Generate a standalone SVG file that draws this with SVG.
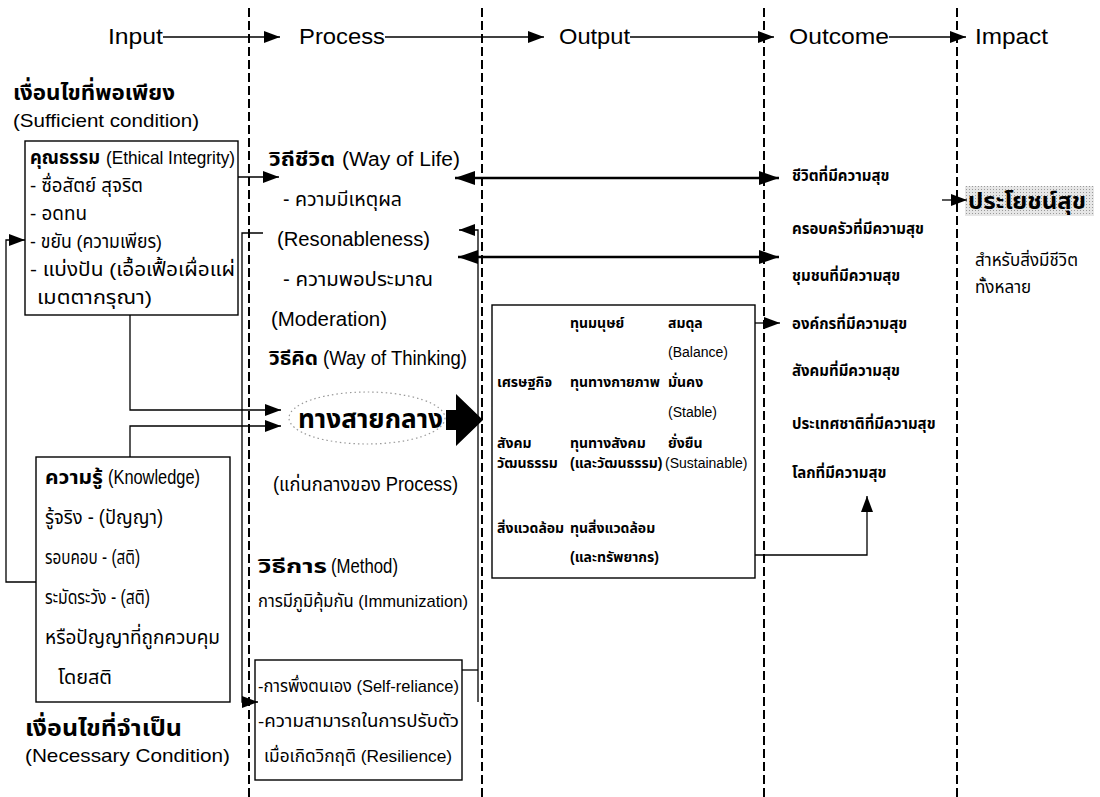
<svg xmlns="http://www.w3.org/2000/svg" width="1100" height="797" viewBox="0 0 1100 797">
<style>
text{font-family:"Liberation Sans","Noto Sans Thai","Noto Sans",sans-serif;fill:#000}
.hd{font-size:22px}
.b{font-weight:bold}
.m{font-size:20px}
.k{font-size:19px}
.s{font-size:17px}
.o{font-size:14px;font-weight:bold}
.oi{font-size:14px}
.oc{font-size:15px;font-weight:bold}
.dash{stroke:#000;stroke-width:2;stroke-dasharray:9 4;fill:none}
.ln{stroke:#000;stroke-width:1.3;fill:none}
.tk{stroke:#000;stroke-width:2.6;fill:none}
.box{fill:#fff;stroke:#000;stroke-width:1.4}
</style>
<defs>
<marker id="ah" markerUnits="userSpaceOnUse" markerWidth="16" markerHeight="12" refX="16" refY="6" orient="auto-start-reverse"><path d="M0,0 L16,6 L0,12 z" fill="#000"/></marker>
<marker id="ahb" markerUnits="userSpaceOnUse" markerWidth="20" markerHeight="14" refX="20" refY="7" orient="auto-start-reverse"><path d="M0,0 L20,7 L0,14 z" fill="#000"/></marker>
<pattern id="dots" width="3" height="3" patternUnits="userSpaceOnUse"><rect width="3" height="3" fill="#e6e6e6"/><rect width="1" height="1" fill="#999"/></pattern>
</defs>
<rect width="1100" height="797" fill="#fff"/>

<g id="dividers">
<line class="dash" x1="249" y1="8" x2="249" y2="797"/>
<line class="dash" x1="482" y1="8" x2="482" y2="797"/>
<line class="dash" x1="764" y1="8" x2="764" y2="797"/>
<line class="dash" x1="957" y1="8" x2="957" y2="797"/>
</g>

<g id="header">
<text class="hd" x="108" y="44" textLength="55" lengthAdjust="spacingAndGlyphs">Input</text>
<text class="hd" x="299" y="44" textLength="86" lengthAdjust="spacingAndGlyphs">Process</text>
<text class="hd" x="559" y="44" textLength="71" lengthAdjust="spacingAndGlyphs">Output</text>
<text class="hd" x="789" y="44" textLength="100" lengthAdjust="spacingAndGlyphs">Outcome</text>
<text class="hd" x="975" y="44" textLength="73" lengthAdjust="spacingAndGlyphs">Impact</text>
</g>

<g id="sufficient-title">
<text class="b" style="font-size:22px" x="13" y="100" textLength="162" lengthAdjust="spacingAndGlyphs">เงื่อนไขที่พอเพียง</text>
<text style="font-size:19px" x="13" y="127" textLength="186" lengthAdjust="spacingAndGlyphs">(Sufficient condition)</text>
</g>

<g id="ethics">
<rect class="box" x="25" y="141" width="213" height="174"/>
<text class="k b" x="30" y="164" textLength="70" lengthAdjust="spacingAndGlyphs">คุณธรรม</text>
<text class="k" x="106" y="164" textLength="129" lengthAdjust="spacingAndGlyphs">(Ethical Integrity)</text>
<text class="k" x="30" y="192" textLength="113" lengthAdjust="spacingAndGlyphs">- ซื่อสัตย์ สุจริต</text>
<text class="k" x="30" y="220" textLength="57" lengthAdjust="spacingAndGlyphs">- อดทน</text>
<text class="k" x="30" y="248" textLength="132" lengthAdjust="spacingAndGlyphs">- ขยัน (ความเพียร)</text>
<text class="k" x="30" y="276" textLength="205" lengthAdjust="spacingAndGlyphs">- แบ่งปัน (เอื้อเฟื้อเผื่อแผ่</text>
<text class="k" x="37" y="304" textLength="115" lengthAdjust="spacingAndGlyphs">เมตตากรุณา)</text>
</g>

<g id="knowledge">
<rect class="box" x="36" y="457" width="194" height="245"/>
<text class="m b" x="45" y="484" textLength="58" lengthAdjust="spacingAndGlyphs">ความรู้</text>
<text class="m" x="108" y="484" textLength="92" lengthAdjust="spacingAndGlyphs">(Knowledge)</text>
<text class="m" x="45" y="524" textLength="118" lengthAdjust="spacingAndGlyphs">รู้จริง  - (ปัญญา)</text>
<text class="m" x="45" y="564" textLength="95" lengthAdjust="spacingAndGlyphs">รอบคอบ - (สติ)</text>
<text class="m" x="45" y="604" textLength="105" lengthAdjust="spacingAndGlyphs">ระมัดระวัง - (สติ)</text>
<text class="m" x="45" y="644" textLength="175" lengthAdjust="spacingAndGlyphs">หรือปัญญาที่ถูกควบคุม</text>
<text class="m" x="58" y="684" textLength="54" lengthAdjust="spacingAndGlyphs">โดยสติ</text>
</g>

<g id="necessary-title">
<text class="b" style="font-size:23px" x="25" y="736" textLength="157" lengthAdjust="spacingAndGlyphs">เงื่อนไขที่จำเป็น</text>
<text style="font-size:19px" x="25" y="762" textLength="205" lengthAdjust="spacingAndGlyphs">(Necessary Condition)</text>
</g>

<g id="process-life">
<text class="m b" x="269" y="166" textLength="66" lengthAdjust="spacingAndGlyphs">วิถีชีวิต</text>
<text class="m" x="342" y="166" textLength="118" lengthAdjust="spacingAndGlyphs">(Way of Life)</text>
<text class="m" x="283" y="206" textLength="119" lengthAdjust="spacingAndGlyphs">- ความมีเหตุผล</text>
<text class="m" x="277" y="246" textLength="153" lengthAdjust="spacingAndGlyphs">(Resonableness)</text>
<text class="m" x="283" y="286" textLength="150" lengthAdjust="spacingAndGlyphs">- ความพอประมาณ</text>
<text class="m" x="271" y="326" textLength="116" lengthAdjust="spacingAndGlyphs">(Moderation)</text>
<text class="m b" x="269" y="365" textLength="49" lengthAdjust="spacingAndGlyphs">วิธีคิด</text>
<text class="m" x="323" y="365" textLength="144" lengthAdjust="spacingAndGlyphs">(Way of Thinking)</text>
</g>

<g id="middle-way">
<ellipse cx="367" cy="418" rx="78" ry="26" fill="none" stroke="#999" stroke-width="1.2" stroke-dasharray="1.5 3"/>
<text class="b" style="font-size:26px" x="298" y="428" textLength="145" lengthAdjust="spacingAndGlyphs">ทางสายกลาง</text>
<text class="m" x="273" y="491" textLength="185" lengthAdjust="spacingAndGlyphs">(แก่นกลางของ Process)</text>
</g>

<g id="method">
<text class="m b" x="258" y="573" textLength="69" lengthAdjust="spacingAndGlyphs">วิธีการ</text>
<text class="m" x="331" y="573" textLength="67" lengthAdjust="spacingAndGlyphs">(Method)</text>
<text class="s" x="258" y="607" textLength="210" lengthAdjust="spacingAndGlyphs">การมีภูมิคุ้มกัน (Immunization)</text>
</g>

<g id="resilience">
<rect class="box" x="255" y="660" width="207" height="120"/>
<text class="s" x="258" y="692" textLength="201" lengthAdjust="spacingAndGlyphs">-การพึ่งตนเอง (Self-reliance)</text>
<text class="s" x="258" y="727" textLength="201" lengthAdjust="spacingAndGlyphs">-ความสามารถในการปรับตัว</text>
<text class="s" x="264" y="762" textLength="188" lengthAdjust="spacingAndGlyphs">เมื่อเกิดวิกฤติ (Resilience)</text>
</g>

<g id="capitals">
<rect class="box" x="492" y="305" width="263" height="273"/>
<text class="o" x="570" y="328">ทุนมนุษย์</text>
<text class="o" x="668" y="328">สมดุล</text>
<text class="oi" x="668" y="357">(Balance)</text>
<text class="o" x="497" y="387">เศรษฐกิจ</text>
<text class="o" x="570" y="387">ทุนทางกายภาพ</text>
<text class="o" x="668" y="387">มั่นคง</text>
<text class="oi" x="668" y="417">(Stable)</text>
<text class="o" x="497" y="448">สังคม</text>
<text class="o" x="570" y="448">ทุนทางสังคม</text>
<text class="o" x="668" y="448">ยั่งยืน</text>
<text class="o" x="497" y="468">วัฒนธรรม</text>
<text class="o" x="570" y="468">(และวัฒนธรรม)</text>
<text class="oi" x="665" y="468">(Sustainable)</text>
<text class="o" x="497" y="533">สิ่งแวดล้อม</text>
<text class="o" x="570" y="533">ทุนสิ่งแวดล้อม</text>
<text class="o" x="570" y="562">(และทรัพยากร)</text>
</g>

<g id="outcomes">
<text class="oc" x="792" y="181">ชีวิตที่มีความสุข</text>
<text class="oc" x="792" y="234">ครอบครัวที่มีความสุข</text>
<text class="oc" x="792" y="281">ชุมชนที่มีความสุข</text>
<text class="oc" x="792" y="329">องค์กรที่มีความสุข</text>
<text class="oc" x="792" y="376">สังคมที่มีความสุข</text>
<text class="oc" x="792" y="429">ประเทศชาติที่มีความสุข</text>
<text class="oc" x="792" y="478">โลกที่มีความสุข</text>
</g>

<g id="impact">
<rect x="965" y="186" width="129" height="30" fill="url(#dots)"/>
<text class="b" style="font-size:23px" x="968" y="209" textLength="118" lengthAdjust="spacingAndGlyphs">ประโยชน์สุข</text>
<text class="s" x="975" y="266">สำหรับสิ่งมีชีวิต</text>
<text class="s" x="975" y="293">ทั้งหลาย</text>
</g>

<g id="connectors">
<line class="ln" x1="163" y1="37" x2="280" y2="37" marker-end="url(#ah)"/>
<line class="ln" x1="385" y1="37" x2="544" y2="37" marker-end="url(#ah)"/>
<line class="ln" x1="630" y1="37" x2="774" y2="37" marker-end="url(#ah)"/>
<line class="ln" x1="889" y1="37" x2="966" y2="37" marker-end="url(#ah)"/>

<line class="ln" x1="238" y1="177" x2="279" y2="177" marker-end="url(#ah)"/>
<polyline class="ln" points="130,315 130,410 281,410" marker-end="url(#ah)"/>
<polyline class="ln" points="130,457 130,426 281,426" marker-end="url(#ah)"/>
<polyline class="ln" points="36,582 6,582 6,240 25,240" marker-end="url(#ah)"/>
<polyline class="ln" points="263,233 242,233 242,702 258,702" marker-end="url(#ah)"/>
<line class="ln" x1="462" y1="670" x2="478" y2="670"/>
<polyline class="ln" points="478,702 478,230 459,230" marker-end="url(#ah)"/>

<line class="tk" x1="455" y1="178" x2="779" y2="178" marker-start="url(#ahb)" marker-end="url(#ahb)"/>
<line class="tk" x1="458" y1="257" x2="779" y2="257" marker-start="url(#ahb)" marker-end="url(#ahb)"/>
<line class="ln" x1="755" y1="323" x2="780" y2="323" marker-end="url(#ah)"/>
<polyline class="ln" points="755,555 867,555 867,496" marker-end="url(#ah)"/>
<line class="ln" x1="942" y1="200" x2="967" y2="200" marker-end="url(#ah)"/>

<polygon points="446,410 456,410 456,394 483,420 456,446 456,430 446,430" fill="#000"/>
</g>
</svg>
